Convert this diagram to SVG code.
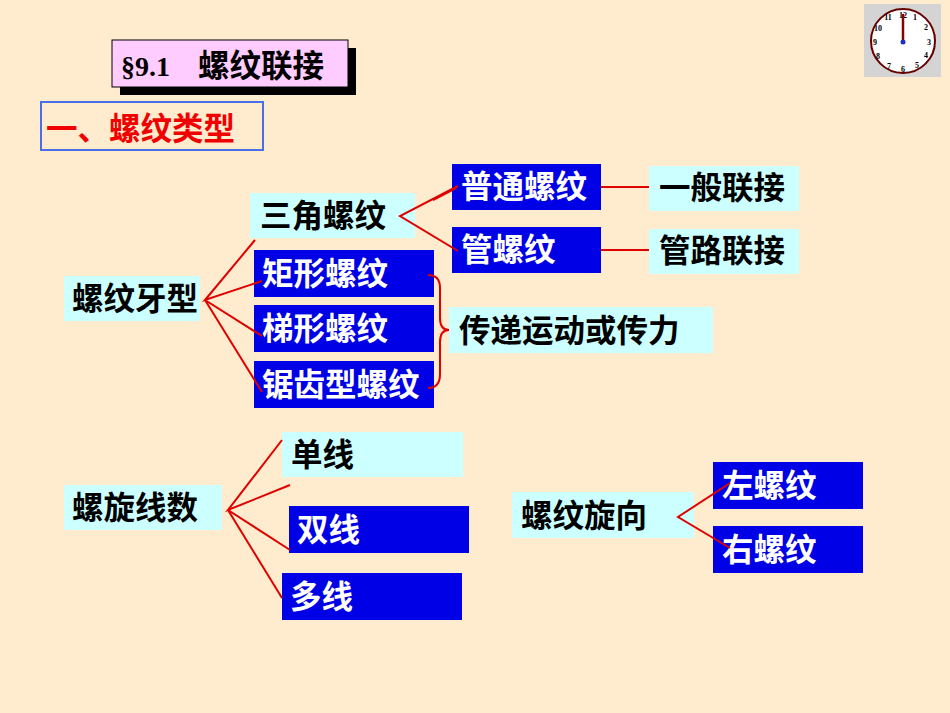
<svg xmlns="http://www.w3.org/2000/svg" width="950" height="713" viewBox="0 0 950 713">
<style>
.c{fill:#CCFFFF}
.b{fill:#0000E6}
.t{font-family:"Noto Sans CJK SC",sans-serif;font-weight:bold;font-size:31.5px}
.w{fill:#fff}
.k{fill:#000}
#conn path{fill:none;stroke:#E00000;stroke-width:2}
</style>
<rect width="950" height="713" fill="#FFEBCD"/>
<g id="clock">
<rect x="864" y="4" width="77" height="73" fill="#D4D4D4"/>
<circle cx="903" cy="41" r="32" fill="#fff" stroke="#600" stroke-width="2"/>
<g font-family="Liberation Serif,serif" font-size="8" font-weight="bold" text-anchor="middle">
<text x="903" y="18">12</text><text x="915" y="20">1</text><text x="926" y="30">2</text><text x="929" y="45">3</text><text x="926" y="58">4</text><text x="917" y="68">5</text><text x="903" y="72">6</text><text x="889" y="69">7</text><text x="878" y="59">8</text><text x="875" y="45">9</text><text x="878" y="31">10</text><text x="888" y="20">11</text>
</g>
<line x1="903" y1="42" x2="903" y2="14" stroke="#800" stroke-width="2.5"/>
<circle cx="903" cy="42" r="2.5" fill="#2030C0"/>
</g>
<g id="title">
<rect x="120" y="48" width="236" height="47" fill="#000"/>
<rect x="112" y="40" width="236" height="47" fill="#FFCCFF" stroke="#000"/>
<text x="121" y="76" font-family="Liberation Serif,serif" font-weight="bold" font-size="28">§9.1</text>
<text x="198" y="77" class="t k" font-size="33">螺纹联接</text>
</g>
<g id="heading">
<rect x="41" y="102" width="222" height="48" fill="none" stroke="#4A6EE8" stroke-width="2"/>
<text x="46" y="140" class="t" fill="#F00000" font-size="34">一、螺纹类型</text>
</g>
<g id="sanjiao"><rect class="c" x="250" y="193" width="165" height="45"/><text class="t k" x="260" y="227">三角螺纹</text></g>
<g id="putong"><rect class="b" x="452" y="164" width="149" height="46"/><text class="t w" x="461" y="198">普通螺纹</text></g>
<g id="guan"><rect class="b" x="452" y="227" width="149" height="46"/><text class="t w" x="461" y="261">管螺纹</text></g>
<g id="yiban"><rect class="c" x="649" y="166" width="150" height="45"/><text class="t k" x="659" y="199">一般联接</text></g>
<g id="guanlu"><rect class="c" x="649" y="229" width="150" height="45"/><text class="t k" x="659" y="262">管路联接</text></g>
<g id="yaxing"><rect class="c" x="64" y="276" width="136" height="45"/><text class="t k" x="72" y="310">螺纹牙型</text></g>
<g id="juxing"><rect class="b" x="254" y="250" width="180" height="47"/><text class="t w" x="262" y="285">矩形螺纹</text></g>
<g id="tixing"><rect class="b" x="254" y="305" width="180" height="47"/><text class="t w" x="262" y="340">梯形螺纹</text></g>
<g id="juchi"><rect class="b" x="254" y="361" width="180" height="47"/><text class="t w" x="262" y="396">锯齿型螺纹</text></g>
<g id="chuandi"><rect class="c" x="449" y="307" width="264" height="46"/><text class="t k" x="459" y="342">传递运动或传力</text></g>
<g id="xianshu"><rect class="c" x="64" y="485" width="158" height="45"/><text class="t k" x="72" y="519">螺旋线数</text></g>
<g id="danxian"><rect class="c" x="282" y="432" width="181" height="45"/><text class="t k" x="291" y="466">单线</text></g>
<g id="shuangxian"><rect class="b" x="289" y="506" width="180" height="47"/><text class="t w" x="297" y="541">双线</text></g>
<g id="duoxian"><rect class="b" x="282" y="573" width="180" height="47"/><text class="t w" x="290" y="608">多线</text></g>
<g id="xuanxiang"><rect class="c" x="512" y="492" width="182" height="46"/><text class="t k" x="521" y="527">螺纹旋向</text></g>
<g id="zuo"><rect class="b" x="713" y="462" width="150" height="47"/><text class="t w" x="722" y="497">左螺纹</text></g>
<g id="you"><rect class="b" x="713" y="526" width="150" height="47"/><text class="t w" x="722" y="561">右螺纹</text></g>
<g id="conn">
<path d="M458,186 L400,216 L458,251"/>
<path d="M433,200 L456,188"/>
<path d="M601,187 H649 M601,250 H649"/>
<path d="M255,240 L205,300 L262,281 M205,300 L262,336 M205,300 L262,392"/>
<path d="M428,275 Q440,275 440,288 V318 Q440,330 449,330 Q440,330 440,342 V374 Q440,388 428,388"/>
<path d="M282,440 L228,510 L290,485 M228,510 L290,550 M228,510 L282,598"/>
<path d="M730,483 L678,517 L730,548"/>
</g>
</svg>
